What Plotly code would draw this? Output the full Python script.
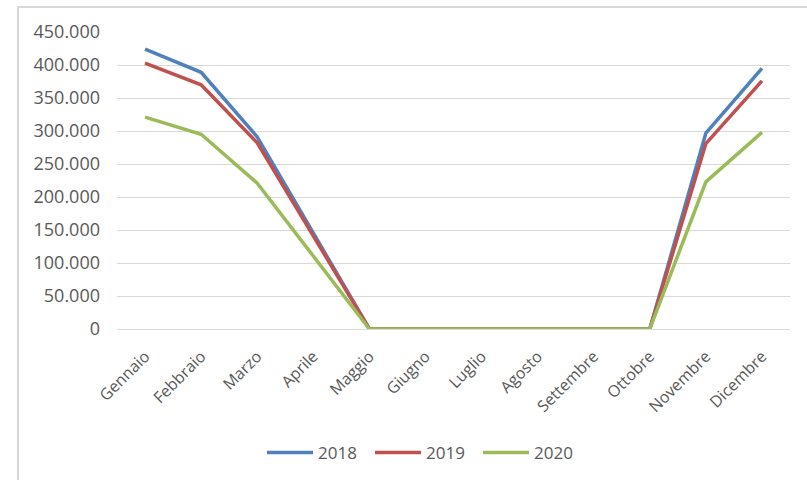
import plotly.graph_objects as go

mesi = ["Gennaio", "Febbraio", "Marzo", "Aprile", "Maggio", "Giugno", "Luglio",
        "Agosto", "Settembre", "Ottobre", "Novembre", "Dicembre"]
v2018 = [424000, 389000, 291000, 146000, 0, 0, 0, 0, 0, 0, 297000, 395000]
v2019 = [403000, 370000, 282000, 141000, 0, 0, 0, 0, 0, 0, 281000, 376000]
v2020 = [321000, 295000, 221000, 111000, 0, 0, 0, 0, 0, 0, 223000, 298000]
yticks = [0, 50000, 100000, 150000, 200000, 250000, 300000, 350000, 400000, 450000]

series = [("2018", v2018, "#4F81BD"), ("2019", v2019, "#C0504D"), ("2020", v2020, "#9BBB59")]

fig = go.Figure()
for name, vals, col in series:
    fig.add_trace(go.Scatter(x=mesi, y=vals, name=name, mode="lines",
                             line=dict(color=col, width=3.5)))

font = "Open Sans, Noto Sans, sans-serif"
L, R, T, B = 117, 17, 32, 151
pw, ph = 807 - L - R, 480 - T - B
fig.update_layout(
    width=807, height=480,
    margin=dict(l=L, r=R, t=T, b=B, autoexpand=False),
    paper_bgcolor="white", plot_bgcolor="white",
    separators=",.",
    font=dict(family=font, size=15, color="#595959"),
    xaxis=dict(type="category", tickangle=-45, showgrid=False, zeroline=False,
               showline=False, ticks="", automargin=False,
               tickfont=dict(size=16, color="#595959"),
               ticklabelstandoff=14, range=[-0.5, 11.5]),
    yaxis=dict(range=[0, 450000], tickvals=yticks, tickformat=",d",
               showgrid=True, gridcolor="#D9D9D9", gridwidth=1.3,
               zeroline=True, zerolinecolor="#D9D9D9", zerolinewidth=1.3,
               showline=False, ticks="", automargin=False, ticklabelstandoff=16,
               tickfont=dict(size=18, color="#595959")),
    legend=dict(orientation="h", x=424 / 807, xref="container", xanchor="center",
                y=(480 - 453) / 480, yref="container", yanchor="middle",
                font=dict(size=17, color="#595959"), itemwidth=46,
                entrywidth=47, entrywidthmode="pixels",
                bgcolor="rgba(0,0,0,0)", traceorder="normal"),
    shapes=[dict(type="rect", xref="paper", yref="paper",
                 x0=(18 - L) / pw, x1=(830 - L) / pw,
                 y0=-B / ph - 0.02, y1=(ph + T - 7) / ph,
                 line=dict(color="#D9D9D9", width=2), layer="below")],
)

fig.write_html("out.html")
